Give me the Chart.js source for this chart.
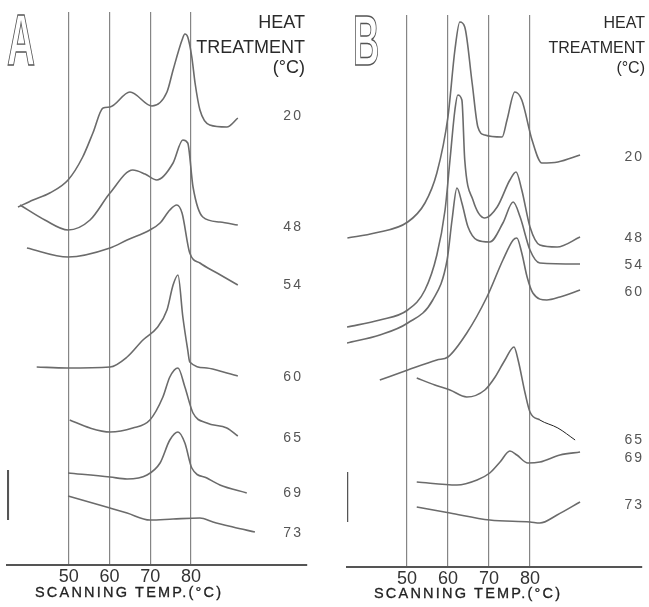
<!DOCTYPE html>
<html>
<head>
<meta charset="utf-8">
<script src="https://cdn.jsdelivr.net/npm/chart.js@4/dist/chart.umd.min.js"></script>
<style>
  body { margin: 0; background: #fff; font-family: "Liberation Sans", Arial, sans-serif; color: #333; }
  #page { position: relative; width: 649px; height: 607px; overflow: hidden; }
  .panel { position: absolute; top: 0; height: 607px; }
  .txt { position: absolute; white-space: nowrap; line-height: 1; }
  .head { text-align: right; color: #2a2a2a; }
  .axtitle { font-size: 14.5px; letter-spacing: 2.2px; color: #222; -webkit-text-stroke: 0.3px #222; }
  .letter { font-weight: bold; color: transparent; -webkit-text-stroke: 1.4px #555; transform-origin: 0 0; }
</style>
</head>
<body>
<div id="page">
  <div class="panel" style="left:0;width:325px"><canvas id="chartA" width="325" height="607"></canvas></div>
  <div class="panel" style="left:325px;width:324px"><canvas id="chartB" width="324" height="607"></canvas></div>

  <div class="txt letter" style="left:7px;top:4px;font-size:72px;transform:scaleX(0.54)">A</div>
  <div class="txt letter" style="left:353px;top:6px;font-size:70px;transform:scaleX(0.52)">B</div>

  <div class="txt head" style="right:344px;top:13px;font-size:18px">HEAT</div>
  <div class="txt head" style="right:344px;top:38px;font-size:18px">TREATMENT</div>
  <div class="txt head" style="right:344px;top:58px;font-size:18px">(°C)</div>

  <div class="txt head" style="right:4px;top:15px;font-size:16px">HEAT</div>
  <div class="txt head" style="right:4px;top:40px;font-size:16px">TREATMENT</div>
  <div class="txt head" style="right:4px;top:60px;font-size:16px">(°C)</div>

  <div class="txt axtitle" style="left:35px;top:585px">SCANNING TEMP.(°C)</div>
  <div class="txt axtitle" style="left:374px;top:586px">SCANNING TEMP.(°C)</div>
</div>
<script>
  // scanning temperature ticks (°C)
  const tempTicks = [50, 60, 70, 80];

  // heat treatment labels
  const treatments = ['20', '48', '54', '60', '65', '69', '73'];

  // panel A thermograms: [scanning temp °C, heat flow (arb. units, curves offset)]
  const a20 = [[37.5,35.8],[41.2,36.5],[45.3,37.2],[49.8,38.5],[53.4,40.8],[55.9,43.2],[58.4,45.7],[60.1,45.8],[65.0,47.3],[70.4,45.9],[74.1,47.3],[75.6,49.5],[77.8,52.5],[78.5,53.1],[79.2,52.8],[80.2,50.8],[81.0,48.2],[82.2,45.5],[84.6,44.0],[88.8,43.8],[91.5,44.7]];
  const a48 = [[38.0,36.0],[44.1,34.5],[49.8,33.5],[55.2,34.5],[60.1,37.2],[65.7,39.5],[68.7,39.1],[71.6,38.5],[75.6,40.2],[78.0,42.5],[79.2,42.2],[80.5,37.8],[82.9,34.8],[87.1,34.3],[91.5,34.0]];
  const a54 = [[39.7,31.7],[49.8,30.8],[60.1,31.7],[64.3,32.5],[69.9,33.5],[72.4,34.2],[74.8,35.5],[76.5,36.0],[77.8,35.2],[79.7,31.2],[82.2,30.2],[86.4,29.2],[91.5,28.0]];
  const a60 = [[42.1,19.8],[49.5,19.7],[60.1,19.8],[64.3,20.8],[68.2,22.5],[71.6,23.7],[74.1,25.5],[75.6,28.0],[76.8,29.0],[78.0,24.8],[79.2,21.5],[79.7,20.3],[83.9,19.7],[88.8,19.2],[91.5,18.9]];
  const a65 = [[50.2,14.5],[55.2,13.7],[60.1,13.3],[65.7,13.7],[69.9,14.5],[73.1,16.8],[74.8,18.8],[76.8,19.7],[78.5,17.8],[80.5,15.2],[83.9,14.2],[88.8,13.7],[91.5,12.9]];
  const a69 = [[49.8,9.2],[60.1,8.8],[64.3,8.6],[69.2,9.0],[72.4,10.2],[74.8,12.5],[76.8,13.3],[78.5,12.2],[80.2,9.7],[83.9,8.7],[87.1,8.0],[93.7,7.2]];
  const a73 = [[49.8,6.9],[60.1,5.7],[64.3,5.2],[69.9,4.5],[75.6,4.6],[82.2,4.7],[85.4,4.3],[90.3,3.8],[95.7,3.3]];
  const labelLevelsA = [44.9, 33.8, 28.0, 18.8, 12.7, 7.2, 3.2];

  // panel B thermograms
  const b20 = [[35.5,32.9],[42.2,33.4],[50.2,34.5],[54.4,36.4],[57.3,39.4],[60.0,45.0],[61.7,51.7],[62.9,54.5],[64.1,54.0],[65.9,48.4],[67.3,44.0],[69.0,43.2],[73.2,43.0],[74.4,44.7],[76.3,47.5],[78.0,46.7],[80.5,42.7],[82.9,40.4],[86.8,40.5],[92.2,41.2]];
  const b48 = [[35.4,24.0],[43.4,24.7],[50.2,25.7],[54.4,27.7],[57.3,31.2],[59.3,35.7],[60.5,40.7],[61.7,45.7],[62.4,47.2],[63.4,46.7],[64.1,40.7],[66.1,36.7],[69.0,34.9],[72.0,36.0],[75.1,38.7],[76.6,39.5],[78.0,37.7],[80.0,34.0],[82.4,32.2],[86.6,32.0],[92.2,33.0]];
  const b54 = [[35.4,22.4],[43.4,23.2],[50.2,24.4],[56.3,26.7],[59.8,30.7],[61.0,34.7],[62.2,37.9],[63.4,36.4],[64.9,34.0],[67.1,32.7],[70.2,32.5],[73.4,34.4],[75.9,36.5],[77.6,35.0],[80.0,31.7],[82.4,30.4],[92.2,30.3]];
  const b60 = [[43.4,18.7],[50.2,19.7],[57.3,20.7],[60.0,21.0],[64.6,23.4],[69.5,27.0],[73.4,30.7],[75.9,32.7],[76.8,32.9],[78.0,31.4],[79.3,29.0],[80.7,27.4],[84.1,26.7],[87.3,27.0],[92.2,27.7]];
  const b65 = [[52.4,18.9],[56.8,18.2],[60.5,17.7],[64.6,17.0],[69.0,17.7],[71.5,19.0],[73.9,20.7],[76.1,22.0],[77.1,20.7],[78.8,17.4],[80.0,15.5],[82.4,14.7],[86.8,13.9],[91.0,12.7]];
  const b69 = [[52.4,8.5],[62.2,8.2],[67.1,8.7],[70.2,9.4],[72.7,10.5],[75.1,11.6],[76.8,11.2],[79.5,10.4],[82.4,10.5],[87.3,11.2],[92.2,11.5]];
  const b73 = [[52.4,6.0],[60.5,5.4],[70.2,4.7],[80.0,4.5],[82.4,4.4],[86.6,5.2],[92.2,6.5]];
  const labelLevelsB = [41.0, 32.9, 30.2, 27.5, 12.7, 10.9, 6.2];

  // vertical scale bar (5 units)
  const scaleBarA = [[35.0, 4.5], [35.0, 9.5]];
  const scaleBarB = [[35.4, 4.5], [35.4, 9.5]];

  const FONT = '"Liberation Sans", Arial, sans-serif';
  const curveColor = '#6b6b6b';

  const curveLabels = {
    id: 'curveLabels',
    afterDatasetsDraw(chart, args, opts) {
      if (!opts.names) return;
      const { ctx, scales: { x, y } } = chart;
      ctx.save();
      ctx.font = '14px ' + FONT;
      ctx.fillStyle = '#555';
      ctx.textAlign = 'right';
      ctx.textBaseline = 'middle';
      ctx.letterSpacing = '2px';
      opts.names.forEach((n, i) => {
        ctx.fillText(n, x.getPixelForValue(opts.at), y.getPixelForValue(opts.levels[i]));
      });
      ctx.restore();
    }
  };
  Chart.register(curveLabels);

  function pts(arr) { return arr.map(p => ({ x: p[0], y: p[1] })); }

  function makeChart(id, series, bar, cfg) {
    const datasets = series.map((s, i) => ({
      data: pts(s),
      borderColor: curveColor,
      borderWidth: 1.6,
      segment: cfg.thinTail && i === cfg.thinTail.index ? {
        borderColor: c => c.p0.parsed.x >= cfg.thinTail.from ? '#222' : curveColor,
        borderWidth: c => c.p0.parsed.x >= cfg.thinTail.from ? 1 : 1.6
      } : undefined
    }));
    datasets.push({ data: pts(bar), borderColor: '#555', borderWidth: 2.5, cubicInterpolationMode: 'default', tension: 0 });

    return new Chart(document.getElementById(id), {
      type: 'line',
      data: { datasets },
      options: {
        responsive: false,
        animation: false,
        devicePixelRatio: 1,
        layout: { padding: cfg.padding },
        elements: { point: { radius: 0 }, line: { cubicInterpolationMode: 'monotone' } },
        plugins: {
          legend: { display: false },
          tooltip: { enabled: false },
          curveLabels: { names: treatments, levels: cfg.levels, at: cfg.labelAt }
        },
        scales: {
          x: {
            type: 'linear',
            min: cfg.xMin,
            max: cfg.xMax,
            afterBuildTicks: s => { s.ticks = tempTicks.map(v => ({ value: v })); },
            afterFit: s => { s.height = cfg.axisHeight; },
            grid: { color: '#858585', lineWidth: 1.2, drawTicks: false },
            border: { color: '#555', width: 2 },
            ticks: { padding: 1, color: '#333', font: { size: 18, family: FONT } }
          },
          y: { display: false, min: 0, max: cfg.yMax }
        }
      }
    });
  }

  makeChart('chartA', [a20, a48, a54, a60, a65, a69, a73], scaleBarA, {
    padding: { left: 7, right: 18, top: 12, bottom: 0 },
    axisHeight: 42, xMin: 34.8, xMax: 108.5, yMax: 55.3,
    levels: labelLevelsA, labelAt: 107.5
  });

  makeChart('chartB', [b20, b48, b54, b60, b65, b69, b73], scaleBarB, {
    padding: { left: 22, right: 7, top: 15, bottom: 0 },
    axisHeight: 40, xMin: 35.4, xMax: 107.3, yMax: 55.2,
    levels: labelLevelsB, labelAt: 107.8,
    thinTail: { index: 4, from: 80.5 }
  });
</script>
</body>
</html>
